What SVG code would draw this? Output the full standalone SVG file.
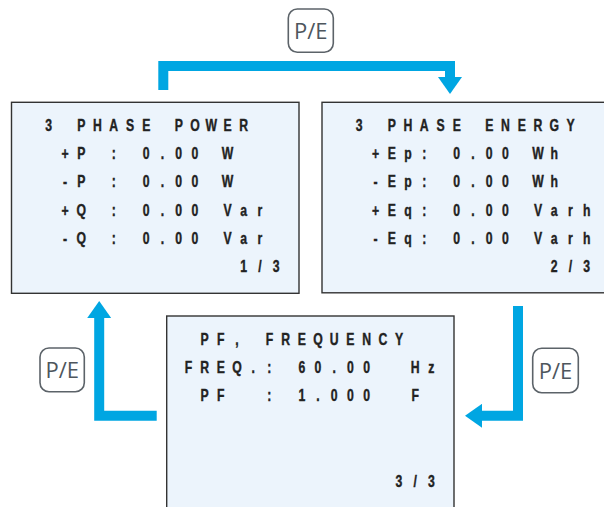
<svg xmlns="http://www.w3.org/2000/svg" width="604" height="507" viewBox="0 0 604 507">
  <style>
    .screen { fill: #ecf4fc; stroke: #333; stroke-width: 1.4; }
    .lcd { font-family: "Liberation Sans", Arial, sans-serif; font-weight: bold; font-size: 16.3px; fill: #222; stroke: #222; stroke-width: 0.4; text-anchor: middle; }
    .flow { fill: none; stroke: #00a6e2; stroke-width: 10; stroke-linejoin: miter; marker-end: url(#head); }
    .key rect { fill: #fff; stroke: #5c6369; stroke-width: 1.6; }
    .key text { font-family: "Open Sans", "Liberation Sans", sans-serif; font-size: 22px; fill: #4e565d; text-anchor: middle; }
  </style>
  <defs>
    <marker id="head" markerUnits="userSpaceOnUse" viewBox="0 0 17 24" refX="1" refY="12" markerWidth="17" markerHeight="24" orient="auto">
      <path d="M0,0 L17,12 L0,24 Z" fill="#00a6e2"/>
    </marker>
  </defs>

  <!-- screen 1/3 : power -->
  <g id="screen-power">
    <rect class="screen" x="11.5" y="102.3" width="287.5" height="191"/>
    <g transform="scale(0.75 1)">
      <text class="lcd" y="130.8" x="65 86.67 108.33 130 151.67 173.33 195 216.67 238.33 260 281.67 303.33 325">3 PHASE POWER</text>
      <text class="lcd" y="159" x="86.67 108.33 130 151.67 173.33 195 216.67 238.33 260 281.67 303.33">+P : 0.00 W</text>
      <text class="lcd" y="187.3" x="86.67 108.33 130 151.67 173.33 195 216.67 238.33 260 281.67 303.33">-P : 0.00 W</text>
      <text class="lcd" y="215.6" x="86.67 108.33 130 151.67 173.33 195 216.67 238.33 260 281.67 303.33 325 346.67">+Q : 0.00 Var</text>
      <text class="lcd" y="243.9" x="86.67 108.33 130 151.67 173.33 195 216.67 238.33 260 281.67 303.33 325 346.67">-Q : 0.00 Var</text>
      <text class="lcd" y="272.2" x="325 335.8 346.67 357.5 368.33">1 / 3</text>
    </g>
  </g>

  <!-- screen 2/3 : energy -->
  <g id="screen-energy">
    <rect class="screen" x="322" y="102.3" width="290" height="190.5"/>
    <g transform="scale(0.75 1)">
      <text class="lcd" y="130.8" x="479 500.67 522.33 544 565.67 587.33 609 630.67 652.33 674 695.67 717.33 739 760.67">3 PHASE ENERGY</text>
      <text class="lcd" y="159" x="500.67 522.33 544 565.67 587.33 609 630.67 652.33 674 695.67 717.33 739">+Ep: 0.00 Wh</text>
      <text class="lcd" y="187.3" x="500.67 522.33 544 565.67 587.33 609 630.67 652.33 674 695.67 717.33 739">-Ep: 0.00 Wh</text>
      <text class="lcd" y="215.6" x="500.67 522.33 544 565.67 587.33 609 630.67 652.33 674 695.67 717.33 739 760.67 782.33">+Eq: 0.00 Varh</text>
      <text class="lcd" y="243.9" x="500.67 522.33 544 565.67 587.33 609 630.67 652.33 674 695.67 717.33 739 760.67 782.33">-Eq: 0.00 Varh</text>
      <text class="lcd" y="272.2" x="739 749.8 760.67 771.5 782.33">2 / 3</text>
    </g>
  </g>

  <!-- screen 3/3 : power factor and frequency -->
  <g id="screen-pf">
    <rect class="screen" x="166.7" y="316" width="287.3" height="200"/>
    <g transform="scale(0.75 1)">
      <text class="lcd" y="345" x="272.8 294.4 316 337.6 359.2 380.8 402.4 424 445.6 467.2 488.8 510.4 532">PF, FREQUENCY</text>
      <text class="lcd" y="373" x="251.2 272.8 294.4 316 337.6 359.2 380.8 402.4 424 445.6 467.2 488.8 510.4 553.6 575.2">FREQ.: 60.00 Hz</text>
      <text class="lcd" y="401" x="272.8 294.4 316 359.2 380.8 402.4 424 445.6 467.2 488.8 510.4 553.6">PF : 1.000 F</text>
      <text class="lcd" y="486.7" x="532 542.8 553.6 564.4 575.2">3 / 3</text>
    </g>
  </g>

  <!-- P/E key steps between screens -->
  <g id="connectors">
    <path class="flow" d="M163.3,90 V66 H450 V78"/>
    <path class="flow" d="M518,306 V415.8 H481"/>
    <path class="flow" d="M156.7,415.7 H99.2 V317"/>
    <g class="key">
      <rect x="288.3" y="9" width="45" height="43.3" rx="9"/>
      <text x="310.8" y="39">P/E</text>
    </g>
    <g class="key">
      <rect x="532.7" y="348.3" width="45.6" height="44.4" rx="9"/>
      <text x="555.5" y="378.6">P/E</text>
    </g>
    <g class="key">
      <rect x="40" y="348" width="44.3" height="43.7" rx="9"/>
      <text x="62.2" y="378">P/E</text>
    </g>
  </g>
</svg>
